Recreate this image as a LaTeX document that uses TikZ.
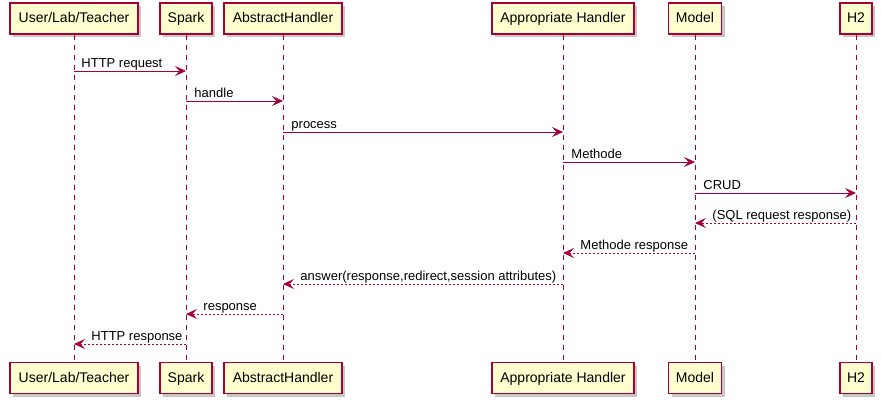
\documentclass[tikz,border=0pt]{standalone}
\usepackage{fontspec}
\setmainfont{Liberation Sans}
\usetikzlibrary{arrows.meta,shadows}
\definecolor{umlred}{HTML}{A80036}
\definecolor{umlfill}{HTML}{FEFECE}
\begin{document}
\begin{tikzpicture}[x=1pt,y=-1pt]
\tikzstyle{actor}=[draw=umlred, fill=umlfill, line width=1.1pt, minimum height=31pt, inner sep=0pt,
  text height=10pt, text depth=2pt,
  font=\fontsize{14}{16}\selectfont, drop shadow={shadow xshift=3pt, shadow yshift=-3pt, opacity=0.45}]
\tikzstyle{life}=[umlred, line width=0.8pt, dash pattern=on 5pt off 5pt]
\tikzstyle{msg}=[umlred, line width=0.9pt, -{Stealth[length=11pt, width=10pt, inset=4.5pt]}]
\tikzstyle{ret}=[msg, dash pattern=on 2pt off 2pt]
\tikzstyle{lbl}=[text=black, inner sep=0pt, font=\fontsize{13}{15}\selectfont, anchor=base west, yshift=4pt]
\useasboundingbox (0,0) rectangle (881,404);
% participants, top row
\node[actor, minimum width=128pt] (userT) at (74,18.5) {User/Lab/Teacher};
\node[actor, minimum width=52pt] (sparkT) at (186,18.5) {Spark};
\node[actor, minimum width=118pt] (absT) at (283,18.5) {AbstractHandler};
\node[actor, minimum width=142pt] (appT) at (563,18.5) {Appropriate Handler};
\node[actor, minimum width=53pt] (modelT) at (695,18.5) {Model};
\node[actor, minimum width=32pt] (hT) at (856,18.5) {H2};
% participants, bottom row
\node[actor, minimum width=128pt] (userB) at (74,378) {User/Lab/Teacher};
\node[actor, minimum width=52pt] (sparkB) at (186,378) {Spark};
\node[actor, minimum width=118pt] (absB) at (283,378) {AbstractHandler};
\node[actor, minimum width=142pt] (appB) at (563,378) {Appropriate Handler};
\node[actor, minimum width=53pt] (modelB) at (695,378) {Model};
\node[actor, minimum width=32pt] (hB) at (856,378) {H2};
% lifelines
\draw[life] (userT) -- (userB);
\draw[life] (sparkT) -- (sparkB);
\draw[life] (absT) -- (absB);
\draw[life] (appT) -- (appB);
\draw[life] (modelT) -- (modelB);
\draw[life] (hT) -- (hB);
% message rows
\coordinate (r1) at (0,71);
\coordinate (r2) at (0,101);
\coordinate (r3) at (0,132);
\coordinate (r4) at (0,162);
\coordinate (r5) at (0,193);
\coordinate (r6) at (0,223);
\coordinate (r7) at (0,253);
\coordinate (r8) at (0,284);
\coordinate (r9) at (0,314);
\coordinate (r10) at (0,344);
% calls
\draw[msg] (userT |- r1) -- node[lbl, pos=0, xshift=7pt] {HTTP request} (sparkT |- r1);
\draw[msg] (sparkT |- r2) -- node[lbl, pos=0, xshift=8pt] {handle} (absT |- r2);
\draw[msg] (absT |- r3) -- node[lbl, pos=0, xshift=8pt] {process} (appT |- r3);
\draw[msg] (appT |- r4) -- node[lbl, pos=0, xshift=8pt] {Methode} (modelT |- r4);
\draw[msg] (modelT |- r5) -- node[lbl, pos=0, xshift=8pt] {CRUD} (hT |- r5);
% returns
\draw[ret] (hT |- r6) -- node[lbl, pos=1, xshift=17pt] {(SQL request response)} (modelT |- r6);
\draw[ret] (modelT |- r7) -- node[lbl, pos=1, xshift=17pt] {Methode response} (appT |- r7);
\draw[ret] (appT |- r8) -- node[lbl, pos=1, xshift=17pt] {answer(response,redirect,session attributes)} (absT |- r8);
\draw[ret] (absT |- r9) -- node[lbl, pos=1, xshift=17pt] {response} (sparkT |- r9);
\draw[ret] (sparkT |- r10) -- node[lbl, pos=1, xshift=17pt] {HTTP response} (userT |- r10);
\end{tikzpicture}
\end{document}
